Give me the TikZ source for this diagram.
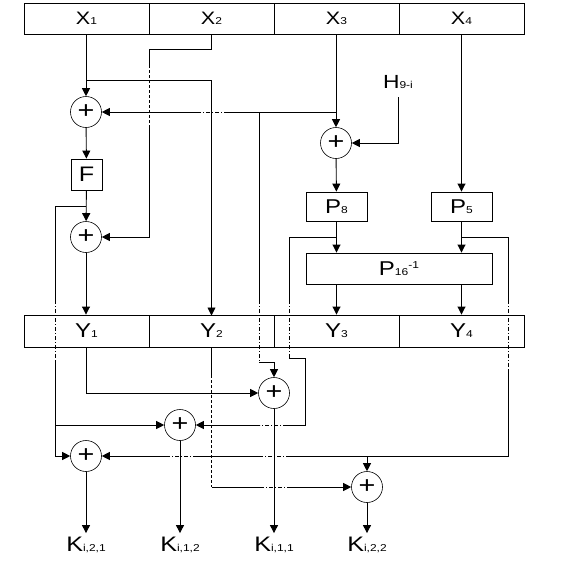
\documentclass[tikz,border=0pt]{standalone}
\usepackage{fontspec}
\setmainfont{Liberation Sans}[FakeStretch=1.2]
\usetikzlibrary{arrows.meta}
\newcommand\lbl[3]{{\fontsize{#1}{#1}\selectfont #2}{\fontsize{10}{10}\selectfont #3}}
\begin{document}
\begin{tikzpicture}[x=1pt,y=-1pt,line width=0.9pt,
  arr/.style={-{Triangle[length=8pt,width=8pt]}},
  xr/.style={circle,draw,line width=0.6pt,minimum size=31pt,inner sep=0pt,font=\fontsize{24}{24}\selectfont},
  cell/.style={draw,inner sep=0pt,minimum width=125pt},
  pbox/.style={draw,inner sep=0pt},
  klab/.style={inner xsep=0pt,inner ysep=3pt,text height=15pt,text depth=0pt,anchor=south},
  dd/.style={dash pattern=on 4pt off 2pt on 1pt off 2pt},
  ds/.style={dash pattern=on 3pt off 2pt}]
\useasboundingbox (0,0) rectangle (563,568);
% top and bottom rows
\foreach \i/\cx in {1/86.5,2/211.5,3/336.5,4/461.5}{
  \node[cell,minimum height=31pt] (x\i) at (\cx,18.5) {\lbl{18}{X}{\i}};
  \node[cell,minimum height=32pt] (y\i) at (\cx,331) {\lbl{20}{Y}{\i}};
}
% xor nodes
\node[xr] (xa) at (86,112) {+};
\node[xr] (xb) at (86,237) {+};
\node[xr] (xh) at (336,143) {+};
\node[xr] (ka) at (274,393) {+};
\node[xr] (kb) at (180,425) {+};
\node[xr] (kc) at (86,456) {+};
\node[xr] (kd) at (367,487) {+};
% boxes
\node[pbox,minimum width=31pt,minimum height=31pt] (f) at (86.5,174.5) {\fontsize{21}{21}\selectfont F};
\node[pbox,minimum width=61pt,minimum height=29pt] (p8) at (336.5,206.5) {\lbl{20}{P}{8}};
\node[pbox,minimum width=61pt,minimum height=29pt] (p5) at (461.5,206.5) {\lbl{20}{P}{5}};
\node[pbox,minimum width=186pt,minimum height=31pt] (p16) at (399,268.5) {\lbl{20}{P}{16\raisebox{7pt}{-1}}};
\node (h) at (398,82) {\lbl{19}{H}{9-i}};
\coordinate (hs) at (398,97);
% output labels
\node[klab] (lc) at (86,555) {\lbl{21}{K}{i,2,1}};
\node[klab] (lb) at (180,555) {\lbl{21}{K}{i,1,2}};
\node[klab] (la) at (274,555) {\lbl{21}{K}{i,1,1}};
\node[klab] (ld) at (367,555) {\lbl{21}{K}{i,2,2}};
% X1 path
\draw[arr] (x1.south -| xa) -- (xa);
\draw[arr] (86,80) -| (211.5,315.5);
% X2 path
\draw (x2.south) |- (149,49) -- (149,65);
\draw[ds] (149,65) -- (149,127);
\draw[arr] (149,127) |- (xb);
% X3 path
\draw[arr] (x3.south -| xh) -- (xh);
\draw (336,112) -- (228,112);
\draw[dd] (228,112) -- (197,112);
\draw[arr] (197,112) -- (xa);
\draw (259,112) -- (259,300);
\draw[dd] (259,300) -- (259,362);
\draw[arr] (259,362) -| (ka);
\draw[arr] (hs) |- (xh);
% F chain
\draw[arr] (xa) -- (f);
\draw[arr] (f) -- (xb);
\draw (86,206) -| (55,300);
\draw[dd] (55,300) -- (55,360);
\draw[arr] (55,360) |- (kc);
\draw[arr] (55,425) -- (kb);
\draw[arr] (xb) -- (xb |- y1.north);
% right half
\draw[arr] (xh) -- (p8);
\draw[arr] (x4.south -| p5) -- (p5);
\draw[arr] (p8) -- (p8 |- p16.north);
\draw[arr] (p5) -- (p5 |- p16.north);
\draw[arr] (p16.south -| p8) -- (y3.north -| p8);
\draw[arr] (p16.south -| p5) -- (y4.north -| p5);
\draw (336,237) -| (289,300);
\draw[dd] (289,300) -- (289,358);
\draw (289,358) -| (305,425) -- (287,425);
\draw[dd] (287,425) -- (260,425);
\draw[arr] (260,425) -- (kb);
\draw (461,237) -| (508,300);
\draw[dd] (508,300) -- (508,370);
\draw (508,370) |- (290,456);
\draw[dd] (290,456) -- (260,456);
\draw (260,456) -- (197,456);
\draw[dd] (197,456) -- (167,456);
\draw[arr] (167,456) -- (kc);
\draw[arr] (367,456) -- (kd);
% Y outputs
\draw[arr] (86,347) |- (ka);
\draw (211.5,347) -- (211.5,375);
\draw[ds] (211.5,375) -- (211.5,487);
\draw (211.5,487) -- (260,487);
\draw[dd] (260,487) -- (290,487);
\draw[arr] (290,487) -- (kd);
% K outputs
\draw[arr] (ka) -- (la);
\draw[arr] (kb) -- (lb);
\draw[arr] (kc) -- (lc);
\draw[arr] (kd) -- (ld);
\end{tikzpicture}
\end{document}
